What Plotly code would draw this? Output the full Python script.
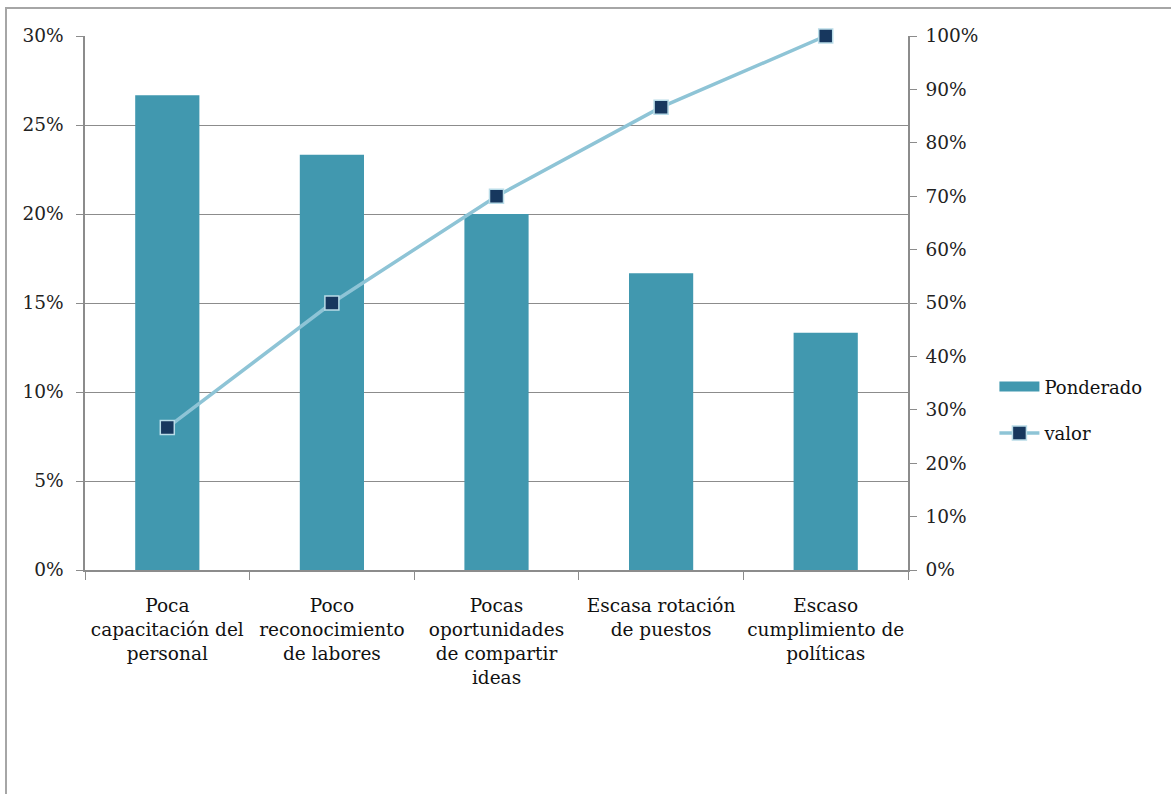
import plotly.graph_objects as go

categories = [
    "Poca<br>capacitación del<br>personal",
    "Poco<br>reconocimiento<br>de labores",
    "Pocas<br>oportunidades<br>de compartir<br>ideas",
    "Escasa rotación<br>de puestos",
    "Escaso<br>cumplimiento de<br>políticas",
]
ponderado = [0.2667, 0.2333, 0.2000, 0.1667, 0.1333]
valor = [0.2667, 0.5000, 0.7000, 0.8667, 1.0000]

left_ticks = [0, 0.05, 0.10, 0.15, 0.20, 0.25, 0.30]
right_ticks = [0, 0.1, 0.2, 0.3, 0.4, 0.5, 0.6, 0.7, 0.8, 0.9, 1.0]

FONT = "DejaVu Serif"
GRID = "#8c8c8c"
BAR = "#4198AF"

fig = go.Figure()
fig.add_trace(go.Bar(
    x=categories, y=ponderado, name="Ponderado",
    marker=dict(color=BAR, line=dict(width=0)),
    width=0.39, yaxis="y", showlegend=False,
))
# legend-only entry giving the wide rectangular swatch used in the original
fig.add_trace(go.Scatter(
    x=[None], y=[None], name="Ponderado", mode="lines",
    line=dict(color=BAR, width=10), legendgroup="a",
))
fig.add_trace(go.Scatter(
    x=categories, y=valor, name="valor", mode="lines+markers",
    line=dict(color="#8EC4D6", width=3.5),
    marker=dict(symbol="square", size=14, color="#17375E",
                line=dict(color="#B9DCE8", width=1.5)),
    yaxis="y2", cliponaxis=False, legendgroup="b",
))

fig.update_layout(
    width=1171, height=794,
    margin=dict(l=85, r=263, t=36, b=224),
    paper_bgcolor="white", plot_bgcolor="white",
    font=dict(family=FONT, size=18, color="#222222"),
    showlegend=True,
    legend=dict(x=1.105, y=0.30, xanchor="left", yanchor="middle",
                font=dict(family=FONT, size=18, color="#111111"),
                bgcolor="rgba(0,0,0,0)", tracegroupgap=20, itemwidth=40),
    xaxis=dict(
        type="category", tickson="boundaries", ticks="outside", ticklen=8,
        tickcolor=GRID, showline=True, linecolor=GRID, linewidth=1.5,
        showgrid=False, tickfont=dict(family=FONT, size=18.5, color="#111111"),
        tickangle=0, range=[-0.5, 4.5], ticklabelstandoff=18,
    ),
    yaxis=dict(
        range=[0, 0.30], tickvals=left_ticks, tickformat=".0%",
        showgrid=True, gridcolor=GRID, gridwidth=1,
        showline=True, linecolor=GRID, linewidth=1.5,
        ticks="outside", ticklen=7, tickcolor=GRID,
        tickfont=dict(family=FONT, size=18.5, color="#222222"),
        zeroline=False, ticklabelstandoff=9,
    ),
    yaxis2=dict(
        range=[0, 1.0], tickvals=right_ticks, tickformat=".0%",
        overlaying="y", side="right", showgrid=False,
        showline=True, linecolor=GRID, linewidth=1.5,
        ticks="outside", ticklen=7, tickcolor=GRID,
        tickfont=dict(family=FONT, size=18.5, color="#222222"),
        zeroline=False, ticklabelstandoff=5,
    ),
    shapes=[dict(
        type="rect", xref="paper", yref="paper",
        x0=(6 - 85) / 823, x1=(1200 - 85) / 823,
        y0=(570 - 820) / 534, y1=(570 - 8) / 534,
        line=dict(color="#a6a6a6", width=2), fillcolor="rgba(0,0,0,0)",
        layer="below",
    )],
)

fig.write_html("out.html")
